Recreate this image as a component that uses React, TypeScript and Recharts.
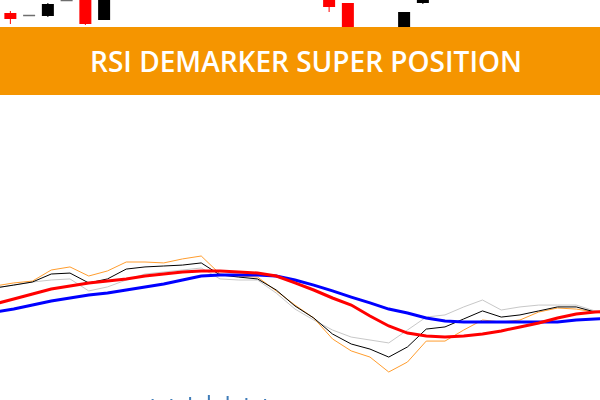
import { Bar, ComposedChart, Line, XAxis, YAxis } from 'recharts'

// bar numbers (shared by candles, oscillator lines and histogram)
const bars = [
  0, 1, 2, 3, 4, 5, 6, 7, 8, 9, 10, 11, 12, 13, 14, 15, 16,
  17, 18, 19, 20, 21, 22, 23, 24, 25, 26, 27, 28, 29, 30, 31, 32, 33,
]

// price candles (most of them sit above the visible part of the picture)
const open = [
  1.2012, 1.1987, 1.19845, 1.1984, 1.19995, 1.2008, 1.198, 1.2006, 1.2016, 1.2012, 1.2027, 1.2031,
  1.2021, 1.2015, 1.2019, 1.201, 1.2006, 1.2009, 1.2003, 1.1997, 1.196, 1.1973, 1.195, 1.1997,
  1.2009, 1.2015, 1.2011, 1.2016, 1.2013, 1.2009, 1.2018, 1.2022, 1.2017, 1.2021,
]
const high = [
  1.2018, 1.1989, 1.1985, 1.1997, 1.2, 1.2012, 1.201, 1.202, 1.2024, 1.203, 1.2035, 1.2036,
  1.2026, 1.2023, 1.2022, 1.2015, 1.2012, 1.2013, 1.2006, 1.1997, 1.1965, 1.1973, 1.1988, 1.2012,
  1.2018, 1.2021, 1.2019, 1.2022, 1.2017, 1.202, 1.2025, 1.2026, 1.2024, 1.2027,
]
const low = [
  1.2006, 1.1976, 1.1984, 1.1983, 1.1999, 1.1975, 1.198, 1.2004, 1.201, 1.2011, 1.202, 1.2018,
  1.2012, 1.2011, 1.2008, 1.2004, 1.2003, 1.2002, 1.1988, 1.1971, 1.1938, 1.194, 1.1945, 1.1996,
  1.2005, 1.2008, 1.2007, 1.201, 1.2006, 1.2008, 1.2014, 1.2015, 1.2013, 1.2016,
]
const close = [
  1.2009, 1.1981, 1.19845, 1.1996, 1.19995, 1.1976, 1.2006, 1.2016, 1.2012, 1.2027, 1.2031, 1.2021,
  1.2015, 1.2019, 1.201, 1.2006, 1.2009, 1.2004, 1.1993, 1.1973, 1.1945, 1.1948, 1.1988, 1.2009,
  1.2015, 1.2011, 1.2016, 1.2013, 1.2009, 1.2018, 1.2022, 1.2017, 1.2021, 1.2019,
]

// oscillator lines
const rsiFast = [
  62.75, 63.9, 64.6, 68.75, 69.9, 66.5, 68.4, 71.75, 71.75, 71.4, 72.9, 74.0, 67.25, 66.5, 66.1,
  60.9, 55.6, 50.75, 42.9, 38.4, 36.1, 30.5, 34.25, 42.1, 42.1, 46.25, 50.0, 49.25, 50.0, 53.0,
  54.5, 54.1, 53.0, 51.9,
]
const rsiMain = [
  62.0, 63.1, 64.25, 67.25, 67.6, 63.9, 65.4, 69.1, 69.9, 70.25, 70.6, 71.4, 66.9, 66.1, 65.4,
  61.25, 55.25, 50.75, 44.75, 41.0, 39.1, 36.1, 39.9, 46.6, 47.4, 50.4, 53.4, 51.1, 51.9, 53.4,
  54.9, 54.9, 53.0, 52.25,
]
const demarker = [
  62.0, 63.1, 64.25, 65.0, 65.4, 60.9, 62.4, 65.0, 67.25, 68.0, 68.75, 69.5, 65.4, 65.0, 65.0,
  60.1, 54.1, 50.0, 46.25, 43.6, 42.5, 41.4, 46.25, 51.1, 51.9, 54.9, 57.5, 53.75, 54.9, 55.6,
  55.6, 55.6, 53.4, 52.6,
]
const signalFast = [
  56.0, 57.9, 59.75, 61.6, 62.75, 63.9, 64.6, 65.4, 66.5, 67.25, 68.0, 68.4, 68.4, 68.0, 67.6,
  66.5, 63.9, 61.25, 58.25, 55.6, 51.5, 47.75, 45.1, 44.0, 43.6, 44.0, 44.75, 45.9, 47.4, 48.9,
  50.75, 52.25, 53.0, 53.4,
]
const signalSlow = [
  53.0, 54.1, 55.6, 57.1, 58.25, 59.4, 60.1, 61.25, 62.4, 63.5, 65.0, 66.5, 66.9, 66.9, 66.9,
  66.5, 65.0, 63.1, 60.9, 58.6, 56.4, 54.1, 52.6, 50.75, 49.6, 49.25, 49.25, 49.25, 49.25, 49.25,
  49.25, 50.0, 50.4, 50.75,
]

// histogram at the bottom edge
const hist = [
  0, 0, 0, 0, 0, 0, 0, 0, 0.25, 0.25, 0.75, 1.25, 1.0, 0.5, 0.25, 0, 0,
  0, 0, 0, 0, 0, 0, 0, 0, 0, 0, 0, 0, 0, 0, 0, 0, 0,
]

const data = bars.map((i, k) => ({
  i,
  open: open[k],
  high: high[k],
  low: low[k],
  close: close[k],
  rsiFast: rsiFast[k],
  rsiMain: rsiMain[k],
  demarker: demarker[k],
  signalFast: signalFast[k],
  signalSlow: signalSlow[k],
  hist: hist[k],
}))

const Candle = (props: any) => {
  const { x, y, width, height, payload } = props
  const { open, close, high, low } = payload
  const top = Math.min(y, y + height)
  const span = Math.abs(height)
  const ratio = high === low ? 0 : span / (high - low)
  const yOf = (p: number) => top + (high - p) * ratio
  const doji = open === close
  const color = doji ? '#6e6e6e' : close > open ? '#000000' : '#ff0000'
  const cx = x + width / 2
  const bodyTop = yOf(Math.max(open, close))
  const bodyBot = yOf(Math.min(open, close))
  return (
    <g>
      <line x1={cx} x2={cx} y1={top} y2={top + span} stroke={color} strokeWidth={1} />
      {doji ? (
        <line x1={x} x2={x + width} y1={bodyTop} y2={bodyTop} stroke={color} strokeWidth={1.5} />
      ) : (
        <rect x={x} y={bodyTop} width={width} height={Math.max(1, bodyBot - bodyTop)} fill={color} />
      )}
    </g>
  )
}

export default function App() {
  return (
    <div style={{ position: 'relative', width: 600, height: 400, overflow: 'hidden', background: '#fff' }}>
      <style>{'body{margin:0}'}</style>
      <ComposedChart
        width={600}
        height={400}
        data={data}
        margin={{ top: 0, right: 0, left: 0, bottom: 0 }}
      >
        <XAxis dataKey="i" type="number" domain={[0.267, 32.267]} allowDataOverflow hide />
        <YAxis yAxisId="price" domain={[1.16, 1.2]} allowDataOverflow hide />
        <YAxis yAxisId="osc" domain={[20, 170]} allowDataOverflow hide />
        <YAxis yAxisId="hist" domain={[0, 100]} allowDataOverflow hide />
        <Bar
          yAxisId="price"
          dataKey={(d: any) => [d.low, d.high]}
          barSize={12}
          shape={Candle}
          isAnimationActive={false}
        />
        <Bar yAxisId="hist" dataKey="hist" barSize={2} fill="#3f7cb8" isAnimationActive={false} />
        <Line yAxisId="osc" type="linear" dataKey="demarker" stroke="#c8c8c8" strokeWidth={1} dot={false} activeDot={false} isAnimationActive={false} />
        <Line yAxisId="osc" type="linear" dataKey="rsiFast" stroke="#ff9d2e" strokeWidth={1} dot={false} activeDot={false} isAnimationActive={false} />
        <Line yAxisId="osc" type="linear" dataKey="rsiMain" stroke="#000000" strokeWidth={1} dot={false} activeDot={false} isAnimationActive={false} />
        <Line yAxisId="osc" type="linear" dataKey="signalSlow" stroke="#0000ff" strokeWidth={3} dot={false} activeDot={false} isAnimationActive={false} />
        <Line yAxisId="osc" type="linear" dataKey="signalFast" stroke="#ff0000" strokeWidth={3} dot={false} activeDot={false} isAnimationActive={false} />
      </ComposedChart>
      <div
        style={{
          position: 'absolute',
          left: 0,
          top: 27,
          width: 600,
          height: 68,
          background: '#f59500',
          color: '#fff',
          fontFamily: '"Open Sans", sans-serif',
          fontWeight: 600,
          fontSize: 28,
          lineHeight: '68px',
          textAlign: 'center',
          paddingLeft: 12,
          boxSizing: 'border-box',
        }}
      >
        RSI DEMARKER SUPER POSITION
      </div>
    </div>
  )
}
